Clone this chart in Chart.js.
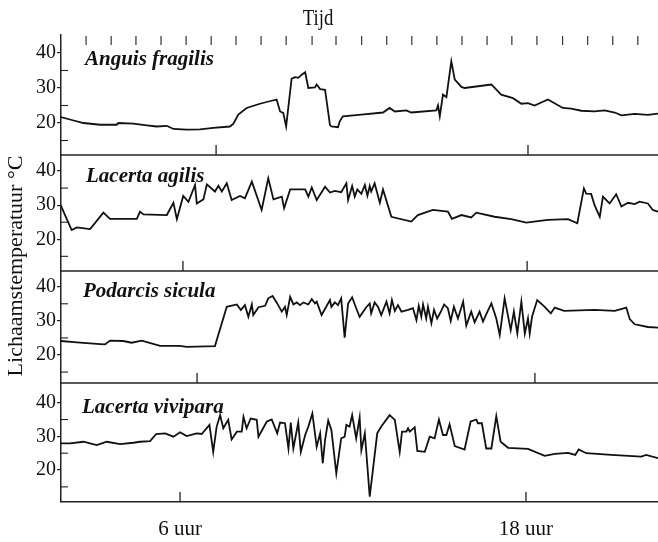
<!DOCTYPE html>
<html><head><meta charset="utf-8">
<script src="https://cdn.jsdelivr.net/npm/chart.js@4.4.1/dist/chart.umd.min.js"></script>
<style>html,body{margin:0;padding:0;background:#fff;}#wrap{width:658px;height:542px;}</style>
</head><body><div id="wrap"><canvas id="c" width="658" height="542"></canvas></div>
<script>
// ---- data (time in hours, body temperature in °C) ----
const species = ['Anguis fragilis', 'Lacerta agilis', 'Podarcis sicula', 'Lacerta vivipara'];

const anguis = [[1.86,21.7],[2.18,21.0],[2.65,20.0],[3.23,19.5],[3.80,19.5],[3.86,20.0],[4.38,19.8],[4.85,19.3],[5.19,19.0],[5.54,19.2],[5.59,19.0],[5.77,18.3],[6.23,18.1],[6.69,18.2],[7.15,18.6],[7.73,19.0],[7.85,19.8],[8.02,22.4],[8.31,24.3],[8.77,25.5],[9.24,26.5],[9.35,26.7],[9.47,23.3],[9.58,22.9],[9.68,19.0],[9.87,32.7],[9.99,33.1],[10.10,32.9],[10.22,33.8],[10.34,34.5],[10.45,30.0],[10.68,30.2],[10.74,31.0],[10.86,29.7],[11.03,29.5],[11.20,19.5],[11.25,19.0],[11.48,18.8],[11.54,20.5],[11.65,21.9],[12.29,22.4],[13.04,23.0],[13.27,24.3],[13.45,23.3],[13.85,23.6],[14.02,23.0],[14.89,23.6],[14.95,25.0],[15.01,21.9],[15.12,28.1],[15.24,27.4],[15.41,37.6],[15.53,32.4],[15.76,30.3],[15.87,30.0],[16.80,31.0],[17.14,28.1],[17.55,27.1],[17.84,25.5],[18.07,25.7],[18.30,25.0],[18.76,26.7],[19.28,24.3],[19.57,24.1],[19.92,23.5],[20.38,23.3],[20.73,23.6],[21.08,23.0],[21.31,22.2],[21.77,22.6],[22.23,22.3],[22.58,22.7]];

const agilis = [[1.86,30.0],[2.01,27.1],[2.24,22.7],[2.42,23.5],[2.88,23.0],[3.34,27.8],[3.57,26.0],[4.50,26.0],[4.61,28.1],[4.73,27.3],[5.54,27.1],[5.77,30.7],[5.89,25.9],[6.11,32.7],[6.29,31.0],[6.52,35.9],[6.58,30.5],[6.81,31.7],[6.93,36.1],[7.21,34.0],[7.33,35.7],[7.45,34.0],[7.62,36.4],[7.79,31.5],[8.08,32.7],[8.25,32.0],[8.49,36.9],[8.83,28.6],[9.06,37.9],[9.24,31.7],[9.53,32.5],[9.61,29.1],[9.82,34.6],[10.34,34.6],[10.45,32.5],[10.57,35.2],[10.74,31.5],[11.03,35.4],[11.20,33.7],[11.37,34.2],[11.59,33.8],[11.77,36.4],[11.83,31.5],[11.97,35.6],[12.06,32.5],[12.15,34.6],[12.29,33.3],[12.41,35.9],[12.50,32.8],[12.58,35.6],[12.63,34.0],[12.75,36.4],[12.93,30.7],[13.04,34.6],[13.33,26.6],[14.02,25.2],[14.25,27.1],[14.77,28.6],[15.29,28.1],[15.43,26.0],[15.76,27.1],[16.10,26.4],[16.28,27.8],[16.91,26.6],[17.49,25.9],[18.01,24.9],[18.76,25.7],[19.46,25.9],[19.78,24.7],[20.01,34.9],[20.09,33.4],[20.26,33.3],[20.38,30.0],[20.56,26.6],[20.67,32.5],[20.90,30.5],[21.13,33.2],[21.31,29.6],[21.54,30.7],[21.77,30.3],[21.94,31.0],[22.23,30.5],[22.40,28.6],[22.58,28.1]];

const sicula = [[1.86,24.1],[2.42,23.7],[3.23,23.2],[3.40,23.1],[3.57,24.2],[4.03,24.1],[4.32,23.6],[4.67,24.2],[5.31,22.7],[6.00,22.7],[6.23,22.4],[7.21,22.6],[7.62,34.1],[7.97,34.8],[8.11,33.2],[8.25,34.6],[8.37,31.2],[8.49,34.8],[8.54,31.7],[8.72,34.0],[8.95,34.4],[9.06,36.6],[9.21,37.3],[9.35,35.4],[9.53,32.7],[9.64,34.1],[9.70,31.7],[9.82,37.0],[9.93,34.8],[10.05,35.4],[10.16,34.6],[10.28,35.4],[10.45,34.8],[10.57,36.4],[10.68,35.1],[10.74,35.6],[10.91,31.7],[11.20,36.1],[11.25,34.1],[11.37,35.4],[11.48,34.6],[11.59,36.6],[11.71,25.1],[11.83,35.1],[11.97,36.9],[12.11,33.7],[12.23,31.2],[12.46,34.0],[12.58,35.1],[12.63,32.2],[12.75,35.4],[12.87,34.1],[12.98,31.7],[13.16,35.6],[13.27,32.2],[13.35,36.1],[13.45,32.9],[13.56,34.6],[13.68,32.7],[13.91,33.2],[14.08,33.7],[14.20,30.2],[14.28,34.4],[14.37,31.2],[14.43,34.8],[14.54,30.7],[14.60,34.1],[14.72,29.3],[14.81,33.2],[14.92,30.7],[15.06,32.9],[15.16,34.8],[15.29,33.7],[15.39,30.0],[15.50,34.1],[15.64,30.7],[15.82,35.6],[15.93,28.6],[16.10,32.7],[16.22,29.6],[16.39,32.7],[16.51,29.8],[16.62,31.9],[16.80,35.1],[16.97,30.7],[17.09,25.9],[17.26,36.6],[17.47,27.3],[17.58,32.7],[17.70,26.3],[17.84,35.6],[17.96,26.3],[18.07,30.7],[18.13,26.3],[18.21,31.2],[18.39,36.1],[18.65,34.1],[18.86,32.2],[19.00,33.9],[19.32,32.9],[20.38,33.2],[21.08,32.9],[21.48,33.9],[21.60,30.5],[21.77,29.0],[22.23,28.2],[22.58,28.0]];

const vivipara = [[1.86,27.9],[2.18,27.9],[2.65,28.4],[3.11,27.4],[3.46,28.4],[3.92,27.7],[4.38,28.1],[4.61,28.4],[4.96,28.6],[5.17,30.7],[5.48,30.9],[5.77,29.9],[6.00,31.2],[6.23,30.1],[6.58,30.9],[6.75,30.7],[7.02,33.4],[7.15,25.4],[7.27,32.9],[7.39,36.3],[7.50,32.4],[7.67,34.9],[7.79,29.1],[7.97,31.4],[8.14,31.4],[8.20,35.8],[8.31,32.4],[8.45,35.3],[8.66,34.9],[8.72,29.9],[9.01,34.4],[9.18,35.0],[9.37,30.9],[9.47,34.1],[9.64,33.9],[9.76,26.4],[9.84,34.1],[9.93,26.4],[10.10,34.1],[10.19,25.4],[10.34,30.4],[10.45,32.9],[10.59,36.8],[10.74,26.9],[10.86,30.9],[10.95,22.0],[11.03,28.9],[11.14,34.7],[11.25,31.9],[11.42,19.0],[11.59,29.4],[11.71,29.9],[11.77,33.4],[11.88,32.9],[11.97,36.3],[12.11,29.4],[12.23,35.6],[12.29,25.9],[12.41,30.9],[12.58,12.1],[12.84,30.9],[12.98,32.9],[13.27,36.3],[13.45,34.9],[13.62,25.4],[13.70,31.4],[13.85,31.4],[13.91,32.4],[13.97,31.4],[14.14,32.7],[14.23,25.7],[14.49,25.4],[14.66,29.9],[14.83,29.4],[14.98,35.0],[15.12,30.4],[15.24,30.4],[15.35,33.6],[15.53,27.1],[15.87,26.1],[16.08,34.4],[16.28,35.0],[16.33,33.9],[16.47,33.9],[16.62,26.4],[16.80,26.4],[16.97,36.0],[17.12,28.4],[17.38,26.6],[18.07,26.3],[18.65,24.2],[19.00,24.8],[19.46,25.1],[19.71,24.5],[19.83,26.1],[20.09,25.0],[20.96,24.5],[22.00,24.0],[22.17,24.5],[22.58,23.5]];

const series = [anguis, agilis, sicula, vivipara];

// ---- axes / ticks ----
const yTickValues = [20, 30, 40];
const yMinorTicks = [15, 25, 35];
const xLabelValues = [6, 18];
const xLabels = ['6 uur', '18 uur'];
const panelHourTicks = [[7.25, 18.07], [6.10, 18.04], [6.59, 18.31], [6.00, 18.00]];
const tijdTicks = [2.74,3.61,4.47,5.34,6.21,7.08,7.94,8.81,9.68,10.58,11.41,12.30,13.17,14.04,14.91,15.78,16.65,17.51,18.38,19.27,20.14,21.01,21.88];
const yAxisTitle = 'Lichaamstemperatuur °C';
const topTitle = 'Tijd';

// ---- layout settings ----
const panelRanges = [[10.86, 45.14], [10.7, 44.7], [11.8, 44.6], [10.5, 45.85]];
const panelWeights = [120, 116, 112, 119];
const labelDx = [24, 25, 22, 21];
const labelDy = [30, 27, 26, 30];
const INK = '#111';
const SERIF = "'Liberation Serif', 'Times New Roman', serif";

const scales = {
  x: {
    type: 'linear', position: 'bottom', min: 1.87, max: 22.58,
    grid: { display: false, drawTicks: false },
    border: { display: true, color: '#222', width: 1.4 },
    afterBuildTicks: s => { s.ticks = xLabelValues.map(v => ({ value: v })); },
    afterFit: s => { s.height = 40; },
    ticks: {
      autoSkip: false, maxRotation: 0, padding: 15, color: INK,
      font: { family: SERIF, size: 21 },
      callback: v => { const i = xLabelValues.indexOf(v); return i >= 0 ? xLabels[i] : ''; }
    }
  }
};
species.forEach((name, i) => {
  scales['y' + i] = {
    type: 'linear', position: 'left', stack: 'panels', stackWeight: panelWeights[i], weight: 10 - i,
    min: panelRanges[i][0], max: panelRanges[i][1],
    afterBuildTicks: s => { s.ticks = yTickValues.map(v => ({ value: v })); },
    afterFit: s => { s.width = 61; },
    grid: { drawOnChartArea: false, drawTicks: true, tickLength: 4, color: '#222', lineWidth: 1.2 },
    border: { display: true, color: '#222', width: 1.5 },
    ticks: { padding: 1, color: INK, font: { family: SERIF, size: 20 }, callback: v => String(v) }
  };
});

const datasets = series.map((pts, i) => ({
  label: species[i],
  data: pts.map(p => ({ x: p[0], y: p[1] })),
  xAxisID: 'x', yAxisID: 'y' + i,
  borderColor: INK, borderWidth: 1.8, pointRadius: 0, tension: 0, fill: false
}));

const decor = {
  id: 'decor',
  afterDraw(chart) {
    const ctx = chart.ctx, area = chart.chartArea, xs = chart.scales.x;
    ctx.save();
    ctx.strokeStyle = '#222';
    ctx.lineCap = 'butt';
    species.forEach((name, i) => {
      const ys = chart.scales['y' + i];
      // separator line at the bottom of each panel
      if (i < species.length - 1) {
        ctx.lineWidth = 1.3;
        ctx.beginPath(); ctx.moveTo(area.left, ys.bottom); ctx.lineTo(area.right, ys.bottom); ctx.stroke();
      }
      // inward minor ticks
      ctx.lineWidth = 1.1;
      yMinorTicks.forEach(v => {
        const y = ys.getPixelForValue(v);
        ctx.beginPath(); ctx.moveTo(area.left, y); ctx.lineTo(area.left + 7, y); ctx.stroke();
      });
      // 6 / 18 hour ticks at panel bottom
      ctx.lineWidth = 1.3;
      panelHourTicks[i].forEach(h => {
        const x = xs.getPixelForValue(h);
        ctx.beginPath(); ctx.moveTo(x, ys.bottom); ctx.lineTo(x, ys.bottom - 10); ctx.stroke();
      });
      // species label
      ctx.fillStyle = INK;
      ctx.font = "italic bold 21px " + SERIF;
      ctx.textAlign = 'left'; ctx.textBaseline = 'alphabetic';
      ctx.fillText(name, area.left + labelDx[i], ys.top + labelDy[i]);
    });
    // Tijd ticks at the top
    const top = chart.scales.y0.top;
    ctx.lineWidth = 1.2; ctx.strokeStyle = '#333';
    tijdTicks.forEach(h => {
      const x = xs.getPixelForValue(h);
      ctx.beginPath(); ctx.moveTo(x, top + 1); ctx.lineTo(x, top + 10); ctx.stroke();
    });
    // Tijd title (condensed)
    ctx.save();
    ctx.translate(318, 25);
    ctx.scale(0.78, 1);
    ctx.font = "24px " + SERIF;
    ctx.textAlign = 'center'; ctx.textBaseline = 'alphabetic';
    ctx.fillStyle = INK;
    ctx.fillText(topTitle, 0, 0);
    ctx.restore();
    // y axis title
    ctx.save();
    ctx.translate(16, 266);
    ctx.rotate(-Math.PI / 2);
    ctx.font = "22px " + SERIF;
    ctx.textAlign = 'center'; ctx.textBaseline = 'middle';
    ctx.fillStyle = INK;
    ctx.fillText(yAxisTitle, 0, 0);
    ctx.restore();
    ctx.restore();
  }
};

new Chart(document.getElementById('c'), {
  type: 'line',
  data: { datasets },
  options: {
    responsive: false, devicePixelRatio: 1, animation: false,
    layout: { padding: { top: 35, left: 0, right: 0, bottom: 0 } },
    plugins: { legend: { display: false }, tooltip: { enabled: false }, title: { display: false } },
    scales
  },
  plugins: [decor]
});
</script>
</body></html>
